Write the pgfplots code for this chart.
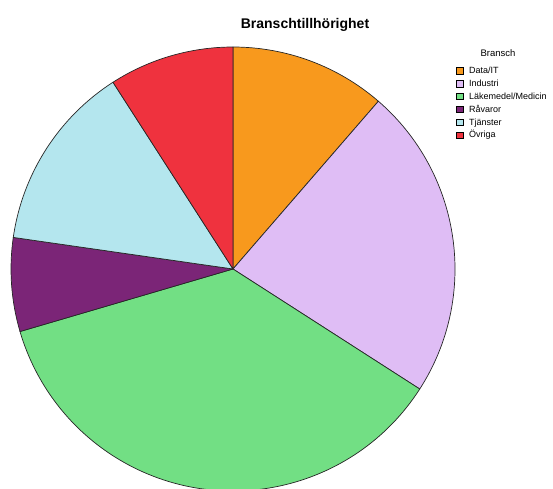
\documentclass[border=0pt]{standalone}
\usepackage{pgfplots}
\pgfplotsset{compat=1.18}
\usepackage{fontspec}
\setmainfont{Liberation Sans}
\definecolor{cData}{HTML}{F8991D}
\definecolor{cInd}{HTML}{DFBDF5}
\definecolor{cLak}{HTML}{72DF84}
\definecolor{cRav}{HTML}{7B2577}
\definecolor{cTja}{HTML}{B4E6EE}
\definecolor{cOvr}{HTML}{EF323E}
\begin{document}
\begin{tikzpicture}
% counts per category (n = 44)
\def\nA{5}\def\nB{10}\def\nC{16}\def\nD{3}\def\nE{6}\def\nF{4}
\pgfmathsetmacro{\tot}{\nA+\nB+\nC+\nD+\nE+\nF}
\pgfmathsetmacro{\aA}{90}
\pgfmathsetmacro{\aB}{\aA-360*\nA/\tot}
\pgfmathsetmacro{\aC}{\aB-360*\nB/\tot}
\pgfmathsetmacro{\aD}{\aC-360*\nC/\tot}
\pgfmathsetmacro{\aE}{\aD-360*\nD/\tot}
\pgfmathsetmacro{\aF}{\aE-360*\nE/\tot}
\pgfmathsetmacro{\aG}{\aF-360*\nF/\tot}
\begin{axis}[x=1pt,y=1pt,xmin=0,xmax=553,ymin=-488,ymax=0,
  hide axis, scale only axis, clip=true,
  legend style={at={(axis cs:456,-65.8)}, anchor=north west, draw=none, fill=none,
    font=\fontsize{9}{10}\selectfont, row sep=2.9pt, inner sep=0pt,
    column sep=0pt,
    nodes={inner sep=0.5pt, text height=7pt, text depth=2pt}},
  legend cell align=left,
  legend image code/.code={\path[draw=none,fill=none] (0pt,0pt) -- (12pt,0pt);
    \draw[#1, line width=0.6pt] (0pt,-3.0pt) rectangle (6.6pt,3.6pt);}
]
\path (axis cs:0,-488) rectangle (axis cs:553,0);
\def\cx{233}\def\cy{-269}\def\R{222}
\newcommand{\slice}[3]{%
  \filldraw[fill=#3, draw=black!85, line width=0.7pt, line join=round]
    (axis cs:\cx,\cy) -- (axis cs:{\cx+\R*cos(#1)},{\cy+\R*sin(#1)})
    arc[start angle=#1, end angle=#2, radius=\R pt] -- cycle;}
\slice{\aA}{\aB}{cData}
\slice{\aB}{\aC}{cInd}
\slice{\aC}{\aD}{cLak}
\slice{\aD}{\aE}{cRav}
\slice{\aE}{\aF}{cTja}
\slice{\aF}{\aG}{cOvr}
\addlegendimage{fill=cData, draw=black}\addlegendentry{Data/IT}
\addlegendimage{fill=cInd, draw=black}\addlegendentry{Industri}
\addlegendimage{fill=cLak, draw=black}\addlegendentry{Läkemedel/Medicin}
\addlegendimage{fill=cRav, draw=black}\addlegendentry{Råvaror}
\addlegendimage{fill=cTja, draw=black}\addlegendentry{Tjänster}
\addlegendimage{fill=cOvr, draw=black}\addlegendentry{Övriga}
\node[anchor=base, font=\bfseries\fontsize{14}{16}\selectfont, inner sep=0pt] at (axis cs:305,-28.5) {Branschtillhörighet};
\node[anchor=base, font=\fontsize{9.5}{11}\selectfont, inner sep=0pt] at (axis cs:498,-56.5) {Bransch};
\end{axis}
\end{tikzpicture}
\end{document}
